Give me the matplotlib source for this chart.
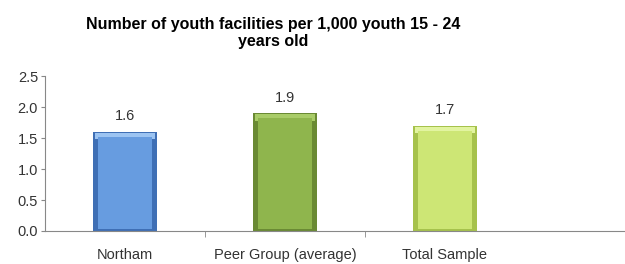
import matplotlib.pyplot as plt
from matplotlib.ticker import FixedLocator

plt.rcParams['font.family'] = ['Liberation Sans', 'DejaVu Sans']

categories = ['Northam', 'Peer Group (average)', 'Total Sample']
values = [1.6, 1.9, 1.7]
colors = ['#679ce0', '#8fb54d', '#cde675']
bevels = ['#3f6fb5', '#6a8a34', '#a6c24c']
tops = ['#9cc4f2', '#a9cc68', '#e2f4a0']

fig = plt.figure(figsize=(6.25, 2.64), dpi=100)
ax = fig.add_axes([0.072, 0.125, 0.928, 0.587])

x = list(range(len(categories)))
# outer bevel, top highlight strip, then inner face
ax.bar(x, values, width=0.4, color=bevels, linewidth=0)
ax.bar(x, [0.1] * len(values), bottom=[v - 0.12 for v in values], width=0.37, color=tops, linewidth=0)
ax.bar(x, [v - 0.12 for v in values], bottom=0.04, width=0.34, color=colors, linewidth=0)

for xi, v in zip(x, values):
    ax.text(xi, v + 0.14, f'{v:.1f}', ha='center', va='bottom', fontsize=10.5, color='#333333')

ax.set_xlim(-0.5, 3.125)
ax.set_ylim(0, 2.5)
ax.set_yticks([0, 0.5, 1.0, 1.5, 2.0, 2.5])
ax.set_yticklabels(['0.0', '0.5', '1.0', '1.5', '2.0', '2.5'])
ax.set_xticks(x)
ax.set_xticklabels(categories)
ax.xaxis.set_minor_locator(FixedLocator([0.5, 1.5]))
ax.tick_params(axis='x', which='major', length=0, pad=12, labelsize=10.5, labelcolor='#333333')
ax.tick_params(axis='x', which='minor', length=4, color='#888888', direction='out')
ax.tick_params(axis='y', length=3, color='#888888', labelsize=10.5, labelcolor='#333333', pad=2)

for s in ['top', 'right']:
    ax.spines[s].set_visible(False)
for s in ['left', 'bottom']:
    ax.spines[s].set_color('#888888')

fig.text(0.437, 0.875, 'Number of youth facilities per 1,000 youth 15 - 24\nyears old',
         ha='center', va='center', fontsize=11.5, fontweight='bold', linespacing=1.2)

fig.savefig('out.png', dpi=100)
